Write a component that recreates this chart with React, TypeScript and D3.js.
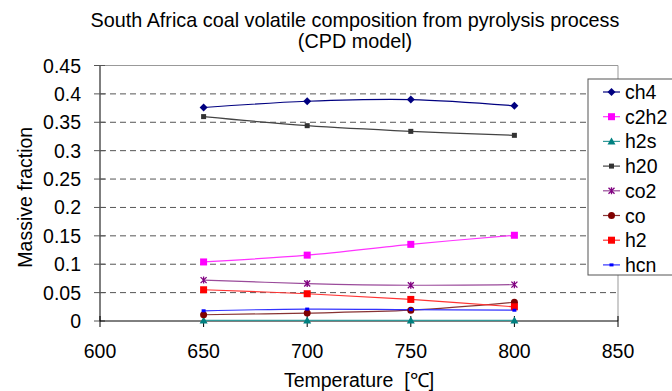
import { useRef, useEffect } from "react";
import * as d3 from "d3";

const temperatures = [650, 700, 750, 800];
const seriesNames = ["ch4", "c2h2", "h2s", "h20", "co2", "co", "h2", "hcn"];
const ch4 = [0.376, 0.387, 0.39, 0.379];
const c2h2 = [0.104, 0.116, 0.135, 0.151];
const h2s = [0.001, 0.001, 0.001, 0.001];
const h20 = [0.36, 0.344, 0.334, 0.327];
const co2 = [0.072, 0.066, 0.063, 0.064];
const co = [0.011, 0.014, 0.019, 0.033];
const h2 = [0.055, 0.048, 0.038, 0.025];
const hcn = [0.018, 0.021, 0.02, 0.019];
const xTicks = [600, 650, 700, 750, 800, 850];
const yTicks = [0, 0.05, 0.1, 0.15, 0.2, 0.25, 0.3, 0.35, 0.4, 0.45];

const values = [ch4, c2h2, h2s, h20, co2, co, h2, hcn];
const colors = ["#000080", "#ff00ff", "#008080", "#333333", "#800080", "#800000", "#ff0000", "#0000ff"];
const lineColors = ["#000080", "#ff33ff", "#339999", "#444444", "#9a4a9a", "#883333", "#ff3333", "#3333ff"];
const markers = ["diamond", "square", "triangle", "smallsquare", "star", "circle", "square", "dash"];

const font = "'Liberation Sans', Arial, sans-serif";

function drawMarker(g: any, type: string, x: number, y: number, color: string) {
  if (type === "diamond") {
    g.append("path").attr("d", `M${x},${y - 4}L${x + 4},${y}L${x},${y + 4}L${x - 4},${y}Z`).attr("fill", color);
  } else if (type === "square") {
    g.append("rect").attr("x", x - 3.5).attr("y", y - 3.5).attr("width", 7).attr("height", 7).attr("fill", color);
  } else if (type === "smallsquare") {
    g.append("rect").attr("x", x - 2.5).attr("y", y - 2.5).attr("width", 5).attr("height", 5).attr("fill", color);
  } else if (type === "triangle") {
    g.append("path").attr("d", `M${x},${y - 4}L${x + 4},${y + 3}L${x - 4},${y + 3}Z`).attr("fill", color);
  } else if (type === "circle") {
    g.append("circle").attr("cx", x).attr("cy", y).attr("r", 3.5).attr("fill", color);
  } else if (type === "star") {
    g.append("path")
      .attr("d", `M${x - 3},${y - 3}L${x + 3},${y + 3}M${x - 3},${y + 3}L${x + 3},${y - 3}M${x},${y - 3.5}L${x},${y + 3.5}`)
      .attr("stroke", color).attr("stroke-width", 1.3).attr("fill", "none");
  } else if (type === "dash") {
    g.append("rect").attr("x", x - 2).attr("y", y - 1.5).attr("width", 4).attr("height", 3).attr("fill", color);
  }
}

export default function App() {
  const svgRef = useRef<SVGSVGElement>(null);

  useEffect(() => {
    const width = 672;
    const height = 391;
    const margin = { top: 65.5, right: 54, bottom: 70, left: 100 };
    const svg = d3.select(svgRef.current);
    svg.selectAll("*").remove();

    const x = d3.scaleLinear().domain([600, 850]).range([margin.left, width - margin.right]);
    const y = d3.scaleLinear().domain([0, 0.45]).range([height - margin.bottom, margin.top]);

    svg.append("rect").attr("width", width).attr("height", height).attr("fill", "#fff");

    // Title
    const title = svg.append("text").attr("text-anchor", "middle")
      .attr("font-family", font).attr("font-size", "19.8px").attr("fill", "#000");
    title.append("tspan").attr("x", 355).attr("y", 27).text("South Africa coal volatile composition from pyrolysis process");
    title.append("tspan").attr("x", 355).attr("y", 48).text("(CPD model)");

    // Gridlines
    yTicks.filter((t) => t > 0 && t < 0.45).forEach((t) => {
      svg.append("line").attr("x1", x(600)).attr("x2", x(850))
        .attr("y1", y(t)).attr("y2", y(t))
        .attr("stroke", "#555").attr("stroke-width", 1).attr("stroke-dasharray", "6,4");
    });
    // Plot border (top + right)
    svg.append("path")
      .attr("d", `M${x(600)},${y(0.45)}H${x(850)}V${y(0)}`)
      .attr("stroke", "#999").attr("fill", "none");

    // Y axis
    svg.append("line").attr("x1", x(600)).attr("x2", x(600)).attr("y1", y(0.45)).attr("y2", y(0))
      .attr("stroke", "#555").attr("stroke-width", 1.5);
    yTicks.forEach((t) => {
      svg.append("line").attr("x1", x(600) - 6).attr("x2", x(600) + 5).attr("y1", y(t)).attr("y2", y(t))
        .attr("stroke", "#555");
      svg.append("text").attr("x", 81).attr("y", y(t)).attr("dy", "0.36em")
        .attr("text-anchor", "end").attr("font-family", font).attr("font-size", "19.5px").text(String(t));
    });

    // X axis
    svg.append("line").attr("x1", x(600)).attr("x2", x(850)).attr("y1", y(0)).attr("y2", y(0))
      .attr("stroke", "#000").attr("stroke-width", 1);
    xTicks.forEach((t) => {
      svg.append("line").attr("x1", x(t)).attr("x2", x(t)).attr("y1", y(0) - 5).attr("y2", y(0) + 6)
        .attr("stroke", "#000");
      svg.append("text").attr("x", x(t)).attr("y", 358).attr("text-anchor", "middle")
        .attr("font-family", font).attr("font-size", "19.5px").text(String(t));
    });

    // Axis titles
    svg.append("text").attr("x", 359).attr("y", 387).attr("text-anchor", "middle")
      .attr("font-family", font).attr("font-size", "19.5px").text("Temperature\u00a0 [\u2103]");
    svg.append("text").attr("transform", `translate(25,${(y(0) + y(0.45)) / 2 + 4}) rotate(-90)`)
      .attr("dy", "0.35em")
      .attr("text-anchor", "middle").attr("font-family", font).attr("font-size", "19.5px")
      .text("Massive fraction");

    // Series
    const line = d3.line<number>()
      .x((_, i) => x(temperatures[i]))
      .y((d) => y(d))
      .curve(d3.curveCatmullRom.alpha(0.5));

    values.forEach((vals, si) => {
      svg.append("path").attr("d", line(vals)).attr("fill", "none")
        .attr("stroke", lineColors[si]).attr("stroke-width", 1.2);
    });
    values.forEach((vals, si) => {
      const g = svg.append("g");
      vals.forEach((v, i) => drawMarker(g, markers[si], x(temperatures[i]), y(v), colors[si]));
    });

    // Legend
    const lg = svg.append("g");
    lg.append("rect").attr("x", 588).attr("y", 79).attr("width", 100).attr("height", 196)
      .attr("fill", "#fff").attr("stroke", "#555");
    seriesNames.forEach((name, i) => {
      const ly = 92 + i * 24.7;
      lg.append("line").attr("x1", 603).attr("x2", 620).attr("y1", ly).attr("y2", ly)
        .attr("stroke", lineColors[i]).attr("stroke-width", 1.2);
      drawMarker(lg, markers[i], 611.5, ly, colors[i]);
      lg.append("text").attr("x", 625).attr("y", ly).attr("dy", "0.36em")
        .attr("font-family", font).attr("font-size", "19.5px").text(name);
    });
  }, []);

  return (
    <div style={{ position: "absolute", left: 0, top: 0 }}>
      <svg ref={svgRef} width={672} height={391} style={{ display: "block" }} />
    </div>
  );
}
